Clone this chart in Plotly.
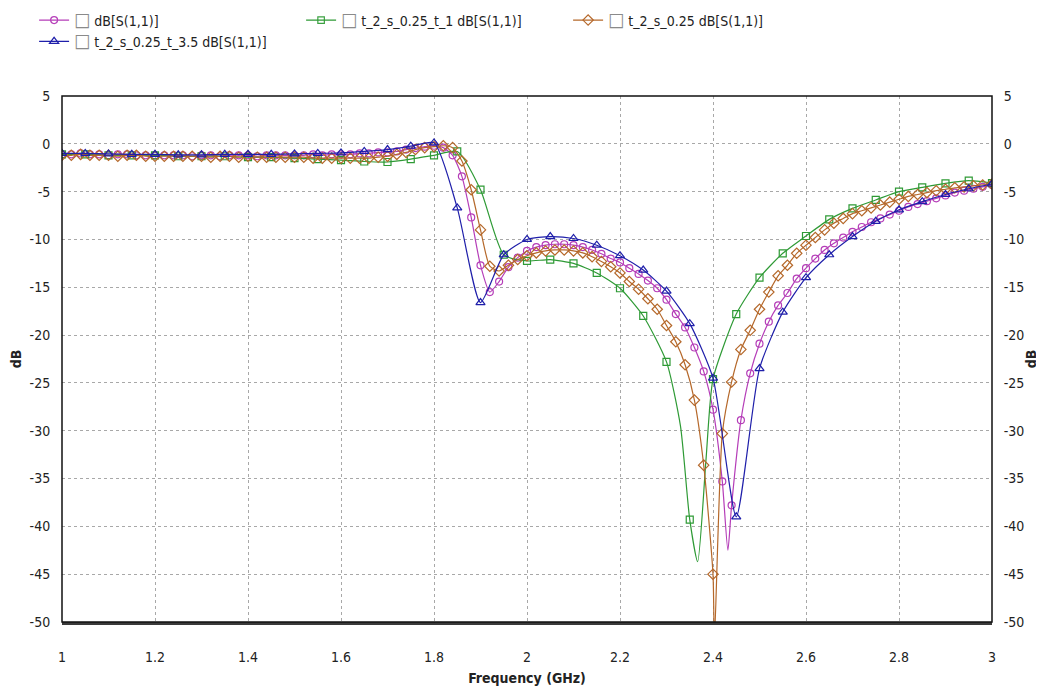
import plotly.graph_objects as go

# ---------------- data ----------------
# sample grids (GHz)
freq_fine = [round(1.00 + 0.02 * i, 2) for i in range(101)]     # purple / brown traces
freq_coarse = [round(1.00 + 0.05 * i, 2) for i in range(41)]    # green / blue traces

# dB[S(1,1)]  (purple, circles)
s11_base = [
    -1.1, -1.1, -1.0, -1.1, -1.1, -1.2, -1.1, -1.1, -1.2, -1.2,
    -1.2, -1.2, -1.2, -1.2, -1.3, -1.2, -1.2, -1.3, -1.2, -1.2,
    -1.2, -1.3, -1.2, -1.2, -1.2, -1.2, -1.2, -1.1, -1.2, -1.1,
    -1.1, -1.1, -1.0, -1.0, -0.9, -0.9, -0.8, -0.6, -0.45, -0.3,
    -0.2, -0.4, -1.2, -3.4, -7.7, -12.7, -15.5, -14.4, -12.9, -11.9,
    -11.2, -10.8, -10.6, -10.5, -10.5, -10.6, -10.8, -11.1, -11.5, -12.0,
    -12.4, -13.0, -13.6, -14.3, -15.1, -16.3, -17.8, -19.2, -21.3, -23.8,
    -27.8, -35.3, -37.8, -28.9, -24.0, -20.9, -18.6, -16.9, -15.6, -14.1,
    -13.0, -12.0, -11.1, -10.4, -9.8, -9.2, -8.7, -8.2, -7.8, -7.4,
    -7.0, -6.6, -6.3, -6.0, -5.7, -5.4, -5.1, -4.9, -4.7, -4.5, -4.3,
]
s11_base_dip_f = [2.432]
s11_base_dip_db = [-42.5]

# t_2_s_0.25_t_1 dB[S(1,1)]  (green, squares)
s11_t1 = [
    -1.1, -1.1, -1.2, -1.2, -1.2, -1.3, -1.3, -1.3, -1.4, -1.4,
    -1.5, -1.6, -1.7, -1.85, -1.9, -1.6, -1.2, -0.8, -4.8, -11.6,
    -12.25, -12.1, -12.5, -13.5, -15.1, -18.0, -22.8, -39.3, -24.6, -17.8,
    -14.0, -11.45, -9.64, -7.9, -6.75, -5.87, -5.0, -4.55, -4.13, -3.85,
    -4.1,
]
s11_t1_dip_f = [2.33, 2.367, 2.385]
s11_t1_dip_db = [-29.5, -43.7, -33.0]

# t_2_s_0.25 dB[S(1,1)]  (brown, diamonds)
s11_s025 = [
    -1.2, -1.2, -1.1, -1.2, -1.2, -1.2, -1.3, -1.2, -1.2, -1.3,
    -1.3, -1.3, -1.3, -1.3, -1.3, -1.3, -1.4, -1.3, -1.3, -1.4,
    -1.3, -1.4, -1.4, -1.4, -1.4, -1.4, -1.4, -1.5, -1.5, -1.5,
    -1.5, -1.5, -1.5, -1.5, -1.4, -1.3, -1.1, -0.9, -0.6, -0.4,
    -0.3, -0.2, -0.4, -1.8, -4.8, -9.0, -12.8, -13.3, -12.7, -12.1,
    -11.7, -11.4, -11.2, -11.1, -11.1, -11.2, -11.4, -11.8, -12.3, -12.85,
    -13.5, -14.4, -15.2, -16.2, -17.3, -19.0, -20.7, -23.1, -26.8, -33.6,
    -45.0, -30.3, -24.9, -21.5, -19.5, -17.3, -15.5, -13.8, -12.7, -11.45,
    -10.6, -9.8, -9.0, -8.3, -7.8, -7.3, -7.0, -6.7, -6.4, -6.1,
    -5.8, -5.5, -5.3, -5.1, -4.9, -4.75, -4.6, -4.5, -4.4, -4.3, -4.2,
]
s11_s025_dip_f = [2.403]
s11_s025_dip_db = [-52.0]

# t_2_s_0.25_t_3.5 dB[S(1,1)]  (blue, triangles)
s11_t35 = [
    -1.0, -1.0, -1.05, -1.1, -1.1, -1.15, -1.15, -1.1, -1.1, -1.1,
    -1.05, -1.0, -0.95, -0.8, -0.6, -0.25, 0.1, -6.7, -16.6, -11.6,
    -10.0, -9.7, -9.9, -10.6, -11.7, -13.2, -15.4, -18.8, -24.5, -39.0,
    -23.5, -17.6, -14.0, -11.6, -9.7, -8.1, -6.9, -6.05, -5.3, -4.7,
    -4.2,
]

x_ticks = [1, 1.2, 1.4, 1.6, 1.8, 2, 2.2, 2.4, 2.6, 2.8, 3]
x_tick_labels = ["1", "1.2", "1.4", "1.6", "1.8", "2", "2.2", "2.4", "2.6", "2.8", "3"]
y_ticks = [5, 0, -5, -10, -15, -20, -25, -30, -35, -40, -45, -50]
y_tick_labels = ["5", "0", "-5", "-10", "-15", "-20", "-25", "-30", "-35", "-40", "-45", "-50"]

names = [
    "dB[S(1,1)]",
    "t_2_s_0.25_t_1 dB[S(1,1)]",
    "t_2_s_0.25 dB[S(1,1)]",
    "t_2_s_0.25_t_3.5 dB[S(1,1)]",
]

# ---------------- styling ----------------
FONT = "DejaVu Sans Condensed, Liberation Sans Narrow, Arial Narrow, Liberation Sans, sans-serif"
colors = ["#B53DB8", "#2E9A35", "#B5682A", "#1F1FAA"]
symbols = ["circle-open", "square-open", "diamond-open", "triangle-up-open"]
msize = [7, 7, 8, 8]


def merge(f, v, ef, ev):
    pts = [(a, b, True) for a, b in zip(f, v)] + [(a, b, False) for a, b in zip(ef, ev)]
    pts.sort(key=lambda p: p[0])
    return [p[0] for p in pts], [p[1] for p in pts], [p[2] for p in pts]


series = [
    merge(freq_fine, s11_base, s11_base_dip_f, s11_base_dip_db),
    merge(freq_coarse, s11_t1, s11_t1_dip_f, s11_t1_dip_db),
    merge(freq_fine, s11_s025, s11_s025_dip_f, s11_s025_dip_db),
    merge(freq_coarse, s11_t35, [], []),
]

box = "<span style='font-size:19px;color:#8a8a8a'>\u25A1</span> "

fig = go.Figure()
for i, (xs, ys, mk) in enumerate(series):
    fig.add_trace(go.Scatter(
        x=xs, y=ys, mode="lines+markers",
        name=box + names[i],
        line=dict(color=colors[i], width=1.2, shape="spline", smoothing=0.6),
        marker=dict(symbol=symbols[i], color=colors[i],
                    size=[msize[i] if m else 0 for m in mk],
                    opacity=[1 if m else 0 for m in mk],
                    line=dict(color=colors[i], width=1.2)),
        cliponaxis=True,
    ))

# invisible trace to carry the right-hand axis
fig.add_trace(go.Scatter(x=[1, 3], y=[None, None], yaxis="y2", showlegend=False,
                         hoverinfo="skip", mode="lines"))

grid = dict(showgrid=True, gridcolor="#a8a8a8", griddash="3px,3px", gridwidth=1)
tfont = dict(family=FONT, size=14, color="#222")

fig.update_layout(
    width=1036, height=688,
    paper_bgcolor="white", plot_bgcolor="white",
    margin=dict(l=54, r=52, t=88, b=74, autoexpand=False),
    font=tfont,
    showlegend=True,
    legend=dict(orientation="h", x=-0.03, y=1.174, xanchor="left", yanchor="top",
                entrywidth=222, entrywidthmode="pixels",
                font=dict(family=FONT, size=14, color="#222"),
                bgcolor="rgba(0,0,0,0)", itemwidth=30),
    xaxis=dict(range=[1, 3], tickvals=x_ticks, ticktext=x_tick_labels,
               ticks="outside", ticklen=20, tickcolor="rgba(0,0,0,0)",
               showline=True, linecolor="#3a3a3a", linewidth=3, mirror=False,
               zeroline=False, tickfont=tfont,
               title=dict(text="<b>Frequency (GHz)</b>", standoff=10,
                          font=dict(family=FONT, size=14)),
               **grid),
    yaxis=dict(range=[-50, 5], tickvals=y_ticks, ticktext=y_tick_labels,
               ticks="outside", ticklen=8, tickcolor="rgba(0,0,0,0)",
               showline=False, zeroline=False, tickfont=tfont,
               title=dict(text="<b>dB</b>", standoff=8,
                          font=dict(family=FONT, size=14)),
               **grid),
    yaxis2=dict(range=[-50, 5], tickvals=y_ticks, ticktext=y_tick_labels,
                overlaying="y", side="right",
                anchor="x", showgrid=False, zeroline=False, showline=False,
                ticks="outside", ticklen=8, tickcolor="rgba(0,0,0,0)", tickfont=tfont,
                title=dict(text="<b>dB</b>", standoff=2,
                           font=dict(family=FONT, size=14))),
    shapes=[dict(type="rect", xref="paper", yref="paper", x0=0, x1=1, y0=0, y1=1,
                 line=dict(color="#111", width=1.5), fillcolor="rgba(0,0,0,0)",
                 layer="above")],
)

fig.write_html("out.html")
